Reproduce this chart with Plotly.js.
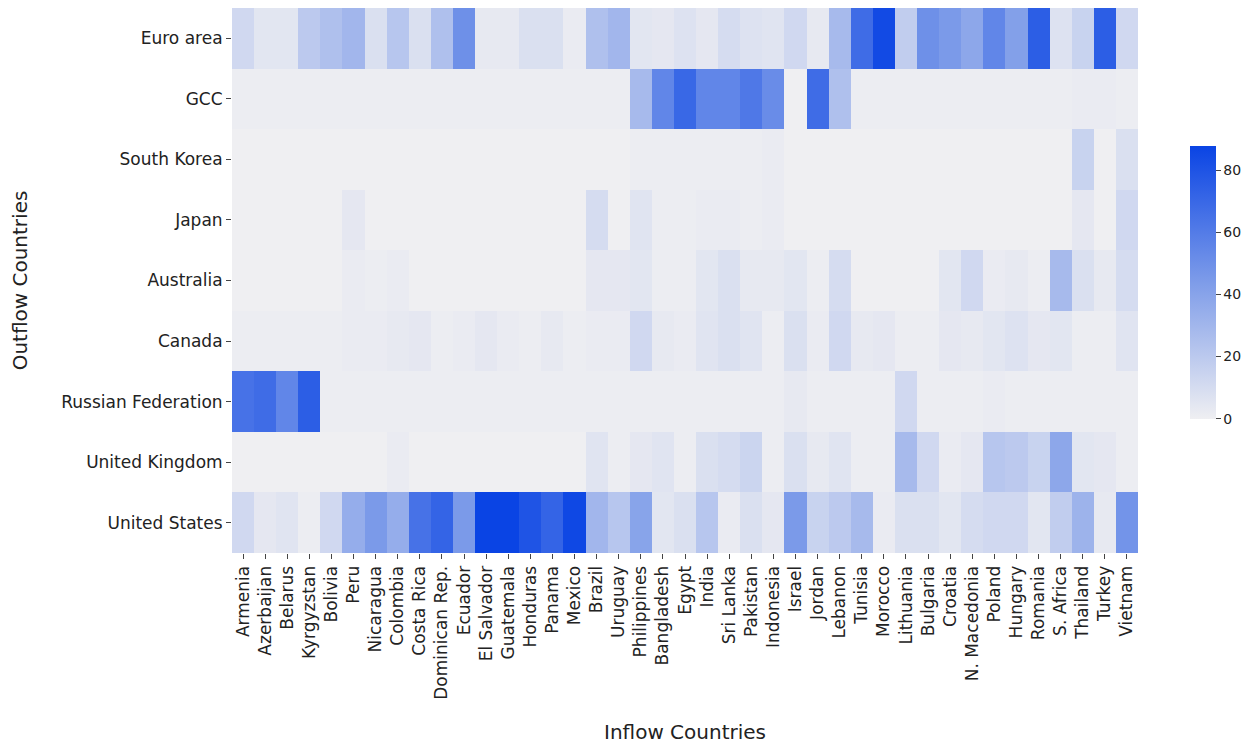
<!DOCTYPE html>
<html><head><meta charset="utf-8">
<script src="https://cdn.plot.ly/plotly-3.0.1.min.js"></script>
<style>body{margin:0;background:#fff}#plot{width:1254px;height:746px}</style>
</head><body><div id="plot"></div>
<script>
const inflow = ["Armenia","Azerbaijan","Belarus","Kyrgyzstan","Bolivia","Peru","Nicaragua","Colombia","Costa Rica","Dominican Rep.","Ecuador","El Salvador","Guatemala","Honduras","Panama","Mexico","Brazil","Uruguay","Philippines","Bangladesh","Egypt","India","Sri Lanka","Pakistan","Indonesia","Israel","Jordan","Lebanon","Tunisia","Morocco","Lithuania","Bulgaria","Croatia","N. Macedonia","Poland","Hungary","Romania","S. Africa","Thailand","Turkey","Vietnam"];
const outflow = ["Euro area","GCC","South Korea","Japan","Australia","Canada","Russian Federation","United Kingdom","United States"];

const euroArea = [12,5,5,20,25,30,8,22,8,25,50,3,3,8,8,2,25,30,5,4,7,4,10,7,6,12,3,28,68,85,18,50,45,38,55,42,75,7,15,75,12];
const gcc      = [1,1,1,1,1,1,1,1,1,1,1,1,1,1,1,1,1,1,28,55,70,55,55,62,52,0,68,25,1,1,1,1,1,1,1,1,1,1,2,2,1];
const korea    = [0,0,0,0,0,0,0,0,0,0,0,0,0,0,0,0,0,0,1,1,1,1,1,1,2,0,0,0,0,0,0,0,0,0,0,0,0,0,15,0,8];
const japan    = [0,0,0,0,0,4,0,0,0,0,0,0,0,0,0,0,10,0,6,1,1,2,2,1,2,0,0,0,0,0,0,0,0,0,0,0,0,0,4,0,12];
const australia= [0,0,0,0,0,2,1,2,0,0,0,0,0,0,0,0,4,4,5,1,1,5,8,3,3,5,1,10,0,0,0,0,5,12,2,3,1,28,8,3,10];
const canada   = [1,1,1,1,1,2,2,3,4,1,2,4,2,1,3,1,2,2,12,3,2,6,8,6,1,8,2,12,3,4,1,1,4,3,5,7,4,5,1,1,6];
const russia   = [65,68,55,75,1,1,1,1,1,1,1,1,1,1,1,1,1,1,1,1,1,1,1,1,1,3,1,1,1,1,12,1,1,1,2,1,1,1,1,1,1];
const uk       = [0,0,0,0,0,0,0,2,0,0,0,0,0,0,0,0,6,1,4,6,1,8,10,14,1,8,3,6,1,1,28,12,2,4,22,20,15,38,5,4,1];
const us       = [12,4,6,1,12,35,45,35,65,72,45,88,88,80,72,86,30,22,40,5,8,22,2,8,4,45,15,20,28,2,8,8,5,10,12,12,5,18,32,3,48];

const z = [euroArea, gcc, korea, japan, australia, canada, russia, uk, us];
const font = "DejaVu Sans, sans-serif";

Plotly.newPlot("plot", [{
  type: "heatmap", x: inflow, y: outflow, z: z,
  zmin: 0, zmax: 88,
  colorscale: [[0, "#efeff2"], [0.5, "#7e9ce9"], [1, "#0a44e4"]],
  colorbar: {
    len: 0.5, lenmode: "fraction", thickness: 26, x: 1.057, xanchor: "left", xpad: 0, ypad: 0,
    y: 0.497, yanchor: "middle",
    outlinewidth: 0, tickvals: [0,20,40,60,80], ticks: "outside", ticklen: 5,
    tickfont: { family: font, size: 14, color: "#222" },
  },
}], {
  width: 1254, height: 746,
  paper_bgcolor: "#fff", plot_bgcolor: "#fff",
  margin: { l: 232, r: 116, t: 8, b: 193 },
  font: { family: font, color: "#222" },
  xaxis: {
    tickangle: -90, ticks: "outside", ticklen: 5, tickfont: { size: 17 },
    title: { text: "Inflow Countries", font: { size: 20 }, standoff: 26 },
    showgrid: false, zeroline: false, automargin: false,
  },
  yaxis: {
    autorange: "reversed", ticks: "outside", ticklen: 5, tickfont: { size: 17 },
    title: { text: "Outflow Countries", font: { size: 20 }, standoff: 28 },
    showgrid: false, zeroline: false, automargin: false,
  },
}, { displayModeBar: false });
</script></body></html>
